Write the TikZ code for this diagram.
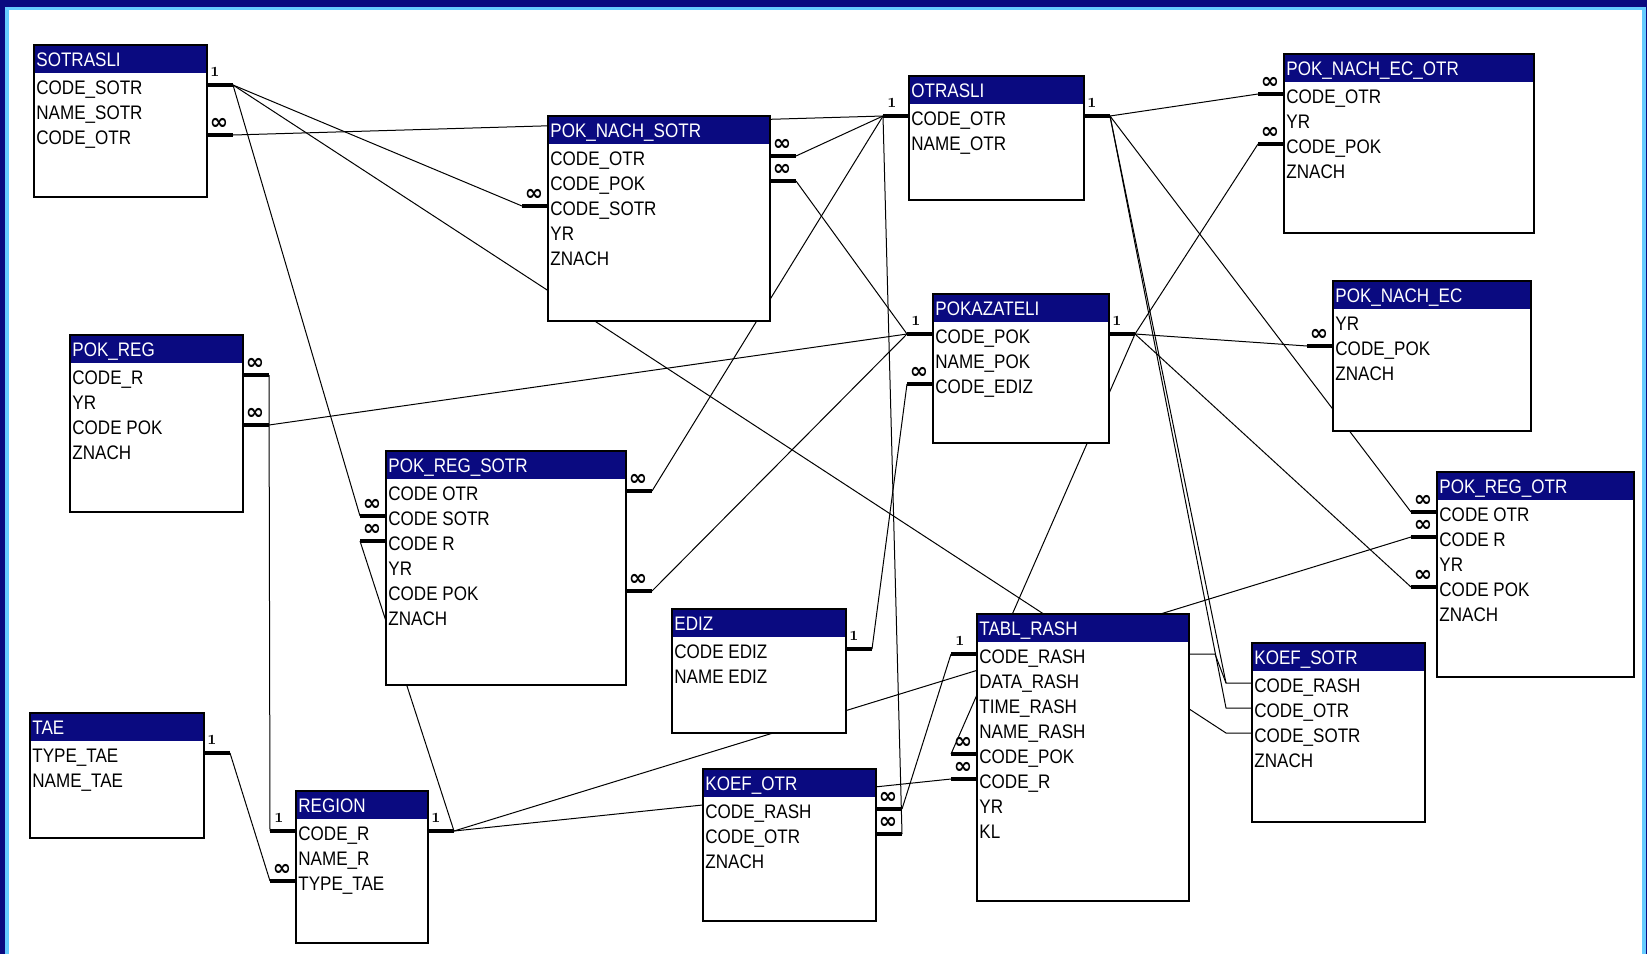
\documentclass[tikz,border=0pt]{standalone}
\usepackage{fontspec}
\newfontfamily\tblfont{Liberation Sans}[FakeStretch=0.87]
\newfontfamily\relfont{DejaVu Sans}
\definecolor{tblnavy}{RGB}{10,10,128}
\definecolor{framelight}{RGB}{102,204,255}
\pgfdeclarelayer{frame}
\pgfdeclarelayer{bg}
\pgfsetlayers{frame,bg,main}
\tikzset{
  tblline/.style={draw=black,line width=0.7pt},
  tbltitle/.style={anchor=base west,inner sep=0,text=white,font=\tblfont\fontsize{9.8}{10}\selectfont},
  tblfield/.style={anchor=base west,inner sep=0,font=\tblfont\fontsize{9.8}{10}\selectfont},
  rel/.style={line width=0.5pt},
  relstub/.style={line width=1.7pt},
  onelbl/.style={inner sep=0,font=\bfseries\fontsize{7}{7}\selectfont},
  manylbl/.style={inner sep=0,font=\relfont\bfseries\fontsize{11}{11}\selectfont},
}
% table: name, left, top, width, height, title, fields
\newcommand{\dbtable}[7]{%
  \fill[white] (#2,#3) rectangle ++(#4,#5);
  \fill[tblnavy] (#2,#3) rectangle ++(#4,28);
  \draw[tblline] (#2,#3) rectangle ++(#4,#5);
  \node[tbltitle] (#1) at (#2+2,#3+21) {#6};
  \foreach \fld [count=\i] in {#7} {
    \node[tblfield] (#1-f\i) at (#2+2,#3+24+25*\i) {\fld};
    \coordinate (#1-\i-l) at (#2,#3+15+25*\i);
    \coordinate (#1-\i-r) at (#2+#4,#3+15+25*\i);
    \coordinate (#1-\i-lo) at (#2-26,#3+15+25*\i);
    \coordinate (#1-\i-ro) at (#2+#4+26,#3+15+25*\i);
  }
}
% relation ends
\newcommand{\oneR}[1]{\draw[relstub] (#1-r) -- (#1-ro); \node[onelbl] at ([shift={(8,-13)}]#1-r) {1};}
\newcommand{\oneL}[1]{\draw[relstub] (#1-lo) -- (#1-l); \node[onelbl] at ([shift={(-17,-13)}]#1-l) {1};}
\newcommand{\manyR}[1]{\draw[relstub] (#1-r) -- (#1-ro); \node[manylbl] at ([shift={(12,-11)}]#1-r) {∞};}
\newcommand{\manyL}[1]{\draw[relstub] (#1-lo) -- (#1-l); \node[manylbl] at ([shift={(-14,-11)}]#1-l) {∞};}
\begin{document}
\begin{tikzpicture}[x=0.5pt,y=-0.5pt]
\useasboundingbox (0,0) rectangle (1647,954);
\begin{pgfonlayer}{frame}
\fill[tblnavy] (0,0) rectangle (1647,954);
\fill[framelight] (5,7) rectangle (1646,954);
\fill[white] (9,10) rectangle (1642,954);
\end{pgfonlayer}

\dbtable{sotr}{34}{45}{173}{152}{SOTRASLI}{CODE\_SOTR,NAME\_SOTR,CODE\_OTR}
\dbtable{pns}{548}{116}{222}{205}{POK\_NACH\_SOTR}{CODE\_OTR,CODE\_POK,CODE\_SOTR,YR,ZNACH}
\dbtable{otr}{909}{76}{175}{124}{OTRASLI}{CODE\_OTR,NAME\_OTR}
\dbtable{pneo}{1284}{54}{250}{179}{POK\_NACH\_EC\_OTR}{CODE\_OTR,YR,CODE\_POK,ZNACH}
\dbtable{pok}{933}{294}{176}{149}{POKAZATELI}{CODE\_POK,NAME\_POK,CODE\_EDIZ}
\dbtable{pne}{1333}{281}{198}{150}{POK\_NACH\_EC}{YR,CODE\_POK,ZNACH}
\dbtable{preg}{70}{335}{173}{177}{POK\_REG}{CODE\_R,YR,CODE POK,ZNACH}
\dbtable{prs}{386}{451}{240}{234}{POK\_REG\_SOTR}{CODE OTR,CODE SOTR,CODE R,YR,CODE POK,ZNACH}
\dbtable{pro}{1437}{472}{197}{205}{POK\_REG\_OTR}{CODE OTR,CODE R,YR,CODE POK,ZNACH}
\dbtable{ediz}{672}{609}{174}{124}{EDIZ}{CODE EDIZ,NAME EDIZ}
\dbtable{tabl}{977}{614}{212}{287}{TABL\_RASH}{CODE\_RASH,DATA\_RASH,TIME\_RASH,NAME\_RASH,CODE\_POK,CODE\_R,YR,KL}
\dbtable{ksotr}{1252}{643}{173}{179}{KOEF\_SOTR}{CODE\_RASH,CODE\_OTR,CODE\_SOTR,ZNACH}
\dbtable{tae}{30}{713}{174}{125}{TAE}{TYPE\_TAE,NAME\_TAE}
\dbtable{reg}{296}{791}{132}{152}{REGION}{CODE\_R,NAME\_R,TYPE\_TAE}
\dbtable{kotr}{703}{769}{173}{152}{KOEF\_OTR}{CODE\_RASH,CODE\_OTR,ZNACH}

% connectors, behind the tables
\begin{pgfonlayer}{bg}
\draw[rel] (sotr-1-ro) -- (pns-3-lo);
\draw[rel] (sotr-1-ro) -- (prs-2-lo);
\draw[rel] (sotr-3-ro) -- (otr-1-lo);
\draw[rel] (pns-1-ro) -- (otr-1-lo);
\draw[rel] (pns-2-ro) -- (pok-1-lo);
\draw[rel] (prs-1-ro) -- (otr-1-lo);
\draw[rel] (prs-5-ro) -- (pok-1-lo);
\draw[rel] (preg-1-ro) -- (reg-1-lo);
\draw[rel] (preg-3-ro) -- (pok-1-lo);
\draw[rel] (tae-1-ro) -- (reg-3-lo);
\draw[rel] (reg-1-ro) -- (prs-3-lo);
\draw[rel] (reg-1-ro) -- (tabl-6-lo);
\draw[rel] (reg-1-ro) -- (pro-2-lo);
\draw[rel] (ediz-1-ro) -- (pok-3-lo);
\draw[rel] (otr-1-lo) -- (kotr-2-ro);
\draw[rel] (tabl-1-lo) -- (kotr-1-ro);
\draw[rel] (pok-1-ro) -- (tabl-5-lo);
\draw[rel] (pok-1-ro) -- (pne-2-lo);
\draw[rel] (pok-1-ro) -- (pneo-3-lo);
\draw[rel] (pok-1-ro) -- (pro-4-lo);
\draw[rel] (otr-1-ro) -- (pneo-1-lo);
\draw[rel] (otr-1-ro) -- (pro-1-lo);
% links without symbols
\draw[rel] (tabl-1-r) -- (tabl-1-ro) -- (ksotr-1-lo) -- (ksotr-1-l);
\draw[rel] (otr-1-ro) -- (ksotr-1-lo);
\draw[rel] (otr-1-ro) -- (ksotr-2-lo) -- (ksotr-2-l);
\draw[rel] (sotr-1-ro) -- (ksotr-3-lo) -- (ksotr-3-l);
\end{pgfonlayer}

\oneR{sotr-1}
\manyR{sotr-3}
\manyL{pns-3}
\manyR{pns-1}
\manyR{pns-2}
\oneL{otr-1}
\oneR{otr-1}
\manyL{pneo-1}
\manyL{pneo-3}
\oneL{pok-1}
\oneR{pok-1}
\manyL{pok-3}
\manyL{pne-2}
\manyR{preg-1}
\manyR{preg-3}
\manyL{prs-2}
\manyL{prs-3}
\manyR{prs-1}
\manyR{prs-5}
\manyL{pro-1}
\manyL{pro-2}
\manyL{pro-4}
\oneR{ediz-1}
\oneL{tabl-1}
\manyL{tabl-5}
\manyL{tabl-6}
\oneR{tae-1}
\oneL{reg-1}
\manyL{reg-3}
\oneR{reg-1}
\manyR{kotr-1}
\manyR{kotr-2}
\end{tikzpicture}
\end{document}
